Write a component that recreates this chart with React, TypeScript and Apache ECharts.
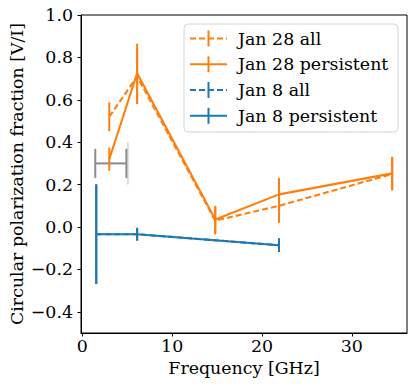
import React, { useEffect, useRef } from "react";
import * as echarts from "echarts";

const freqJan28 = [3.0, 6.1, 14.8, 21.9, 34.5];
const jan28All = [0.52, 0.71, 0.03, 0.1, 0.25];
const jan28AllErr = [0.068, 0.13, 0.065, 0.08, 0.078];
const jan28Pers = [0.32, 0.725, 0.035, 0.154, 0.253];
const jan28PersErr = [0.055, 0.14, 0.065, 0.078, 0.078];

const freqJan8 = [1.55, 6.1, 21.9];
const jan8All = [-0.034, -0.034, -0.086];
const jan8AllErr = [0.235, 0.03, 0.032];
const jan8Pers = [-0.034, -0.034, -0.086];
const jan8PersErr = [0.235, 0.03, 0.032];

// gray horizontal range: center, y, half-width
const grayRange = [3.17, 0.3, 1.73];
const refLineX = 5.07;
const refLineY = [0.2, 0.4];

const xTicks = [0, 10, 20, 30];
const yTicks = [-0.4, -0.2, 0, 0.2, 0.4, 0.6, 0.8, 1.0];

const legendNames = ["Jan 28 all", "Jan 28 persistent", "Jan 8 all", "Jan 8 persistent"];

const ORANGE = "#ff7f0e";
const BLUE = "#1f77b4";
const FONT = "'DejaVu Serif', 'Liberation Serif', serif";
const FS = 17.4;

function pairs(xs: number[], ys: number[]) {
  return xs.map((x, i) => [x, ys[i]]);
}
function triples(xs: number[], ys: number[], es: number[]) {
  return xs.map((x, i) => [x, ys[i], es[i]]);
}

function errSeries(data: number[][], color: string, z: number) {
  return {
    type: "custom",
    z,
    data,
    renderItem: (params: any, api: any) => {
      const x = api.value(0);
      const y = api.value(1);
      const e = api.value(2);
      const p1 = api.coord([x, y - e]);
      const p2 = api.coord([x, y + e]);
      return {
        type: "line",
        shape: { x1: p1[0], y1: p1[1], x2: p2[0], y2: p2[1] },
        style: { stroke: color, lineWidth: 2 },
      };
    },
  };
}

function lineSeries(name: string, data: number[][], color: string, dashed: boolean, z: number) {
  return {
    type: "line",
    name,
    z,
    data,
    showSymbol: false,
    symbol: "none",
    lineStyle: { color, width: 2.1, type: dashed ? [6, 3] : "solid" },
  };
}

export default function App() {
  const ref = useRef<HTMLDivElement>(null);
  useEffect(() => {
    const chart = echarts.init(ref.current!, null, { renderer: "svg" });
    const rowY = [38.5, 64.3, 90, 115.8];
    const legendItems: any[] = [
      {
        type: "rect",
        shape: { x: 184, y: 24, width: 214, height: 108, r: 4 },
        style: { fill: "rgba(255,255,255,0.85)", stroke: "#d4d4d4", lineWidth: 1 },
      },
    ];
    const cols = [ORANGE, ORANGE, BLUE, BLUE];
    const dash = [true, false, true, false];
    legendNames.forEach((n, i) => {
      legendItems.push({
        type: "line",
        shape: { x1: 190, y1: rowY[i], x2: 227, y2: rowY[i] },
        style: { stroke: cols[i], lineWidth: 2.1, lineDash: dash[i] ? [6, 3] : null },
      });
      legendItems.push({
        type: "line",
        shape: { x1: 208.5, y1: rowY[i] - 8, x2: 208.5, y2: rowY[i] + 8 },
        style: { stroke: cols[i], lineWidth: 2 },
      });
      legendItems.push({
        type: "text",
        x: 238,
        y: rowY[i],
        style: {
          text: n,
          fill: "#000",
          fontFamily: FONT,
          fontSize: FS,
          verticalAlign: "middle",
          align: "left",
        },
      });
    });

    const fmt = (v: number) => v.toFixed(1).replace("-", "\u2212");

    chart.setOption({
      animation: false,
      grid: {
        left: 81,
        right: 9,
        top: 15,
        bottom: 56,
        containLabel: false,
        outerBoundsMode: "none",
        show: true,
        borderColor: "#000",
        borderWidth: 1,
        backgroundColor: "transparent",
      },
      xAxis: {
        type: "value",
        min: -0.15,
        max: 36.15,
        name: "Frequency [GHz]",
        nameLocation: "middle",
        nameGap: 26,
        nameMoveOverlap: false,
        nameTextStyle: { fontFamily: FONT, fontSize: FS, color: "#000" },
        axisLine: { show: true, onZero: false, lineStyle: { color: "#000", width: 1 } },
        axisTick: { show: true, customValues: xTicks, length: 3.5, lineStyle: { color: "#000" } },
        axisLabel: {
          customValues: xTicks,
          fontFamily: FONT,
          fontSize: FS,
          color: "#000",
          margin: 4,
          formatter: (v: number) => String(v),
        },
        splitLine: { show: false },
      },
      yAxis: {
        type: "value",
        min: -0.5,
        max: 1.0,
        name: "Circular polarization fraction [V/I]",
        nameLocation: "middle",
        nameGap: 56,
        nameRotate: 90,
        nameMoveOverlap: false,
        nameTextStyle: { fontFamily: FONT, fontSize: FS, color: "#000" },
        axisLine: { show: true, onZero: false, lineStyle: { color: "#000", width: 1 } },
        axisTick: { show: true, customValues: yTicks, length: 3.5, lineStyle: { color: "#000" } },
        axisLabel: {
          customValues: yTicks,
          fontFamily: FONT,
          fontSize: FS,
          color: "#000",
          margin: 8,
          formatter: fmt,
        },
        splitLine: { show: false },
      },
      series: [
        {
          type: "line",
          z: 1,
          data: [
            [refLineX, refLineY[0]],
            [refLineX, refLineY[1]],
          ],
          symbol: "none",
          lineStyle: { color: "#dcdcdc", width: 2 },
        },
        {
          type: "custom",
          z: 2,
          data: [grayRange],
          renderItem: (params: any, api: any) => {
            const cx = api.value(0);
            const y = api.value(1);
            const h = api.value(2);
            const a = api.coord([cx - h, y]);
            const b = api.coord([cx + h, y]);
            const cap = 14.5;
            const st = { stroke: "#8c8c8c", lineWidth: 2 };
            return {
              type: "group",
              children: [
                { type: "line", shape: { x1: a[0], y1: a[1], x2: b[0], y2: b[1] }, style: st },
                { type: "line", shape: { x1: a[0], y1: a[1] - cap, x2: a[0], y2: a[1] + cap }, style: st },
                { type: "line", shape: { x1: b[0], y1: b[1] - cap, x2: b[0], y2: b[1] + cap }, style: st },
              ],
            };
          },
        },
        lineSeries(legendNames[0], pairs(freqJan28, jan28All), ORANGE, true, 3),
        errSeries(triples(freqJan28, jan28All, jan28AllErr), ORANGE, 3),
        lineSeries(legendNames[1], pairs(freqJan28, jan28Pers), ORANGE, false, 4),
        errSeries(triples(freqJan28, jan28Pers, jan28PersErr), ORANGE, 4),
        lineSeries(legendNames[2], pairs(freqJan8, jan8All), BLUE, true, 5),
        errSeries(triples(freqJan8, jan8All, jan8AllErr), BLUE, 5),
        lineSeries(legendNames[3], pairs(freqJan8, jan8Pers), BLUE, false, 6),
        errSeries(triples(freqJan8, jan8Pers, jan8PersErr), BLUE, 6),
      ],
      graphic: legendItems.map((g) => ({ ...g, z: 100 })),
    });
    return () => chart.dispose();
  }, []);
  return (
    <div
      ref={ref}
      style={{ position: "absolute", left: 0, top: 0, width: 416, height: 389 }}
    />
  );
}
